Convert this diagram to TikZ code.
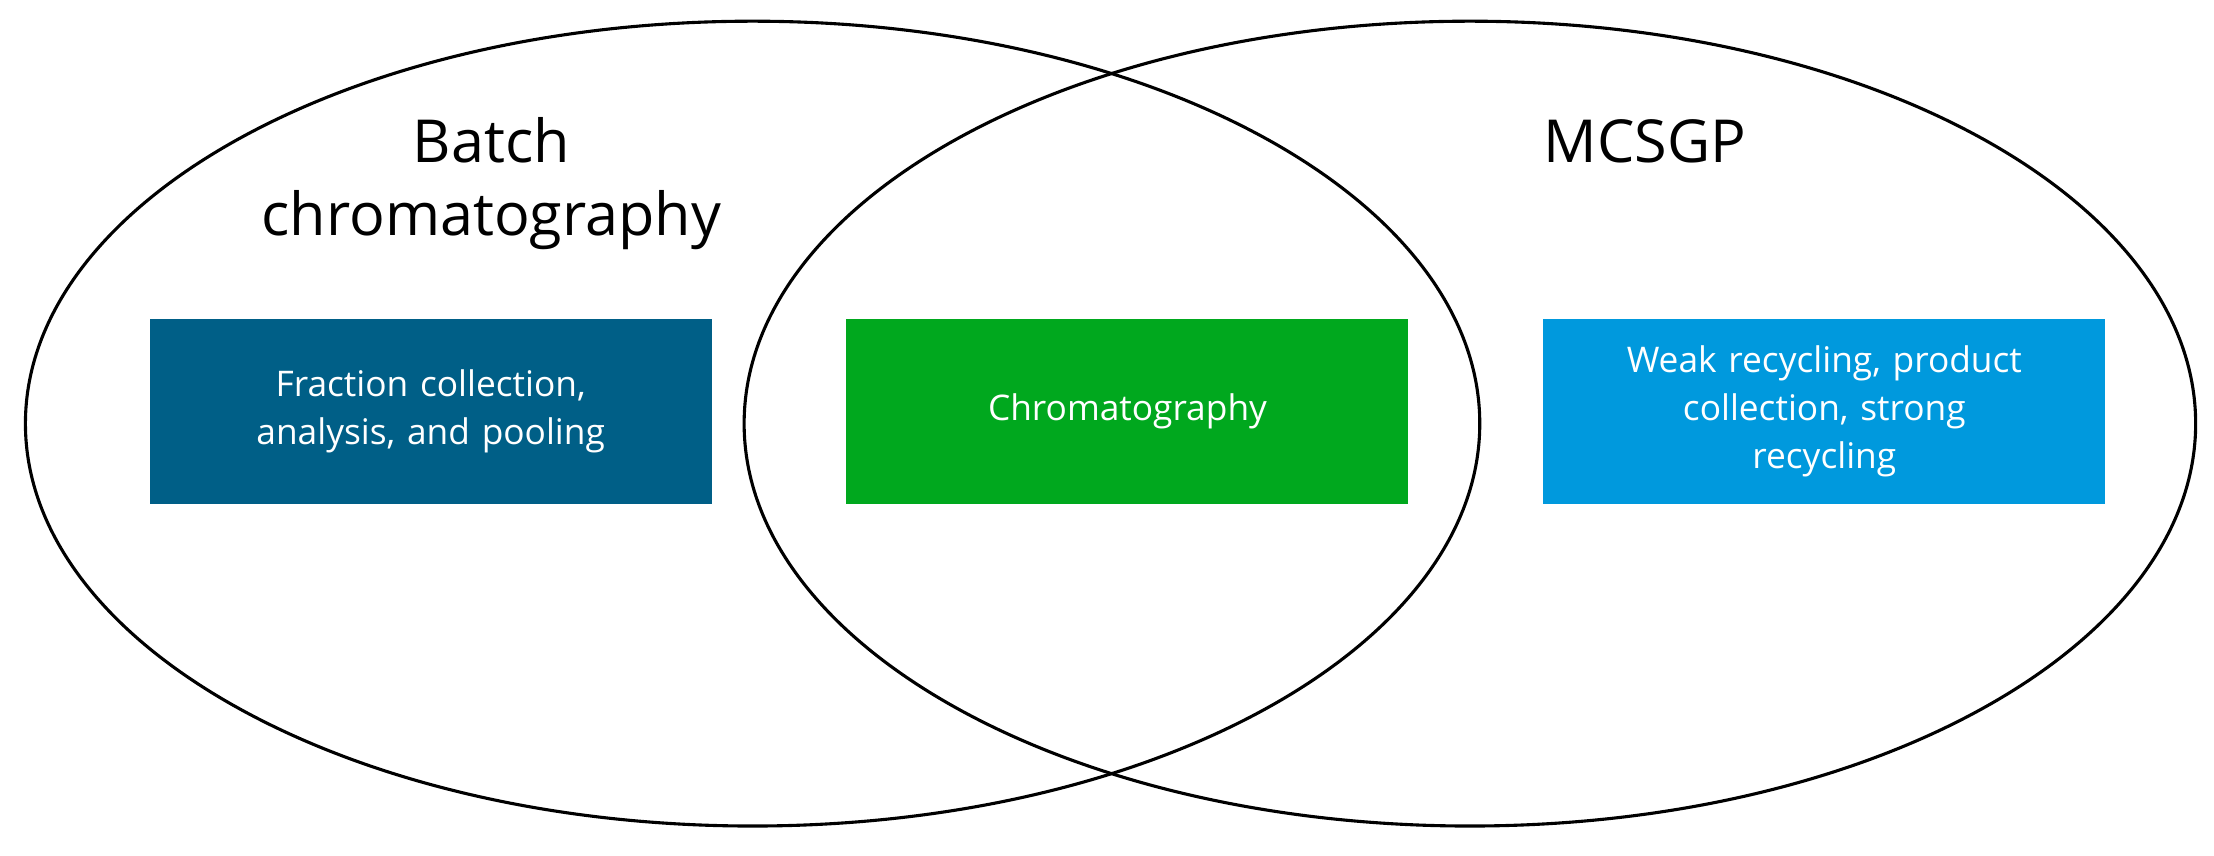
\documentclass[tikz,border=0pt]{standalone}
\usepackage{fontspec}
\setmainfont{Open Sans}
\definecolor{cdark}{HTML}{005F87}
\definecolor{cgreen}{HTML}{00A81E}
\definecolor{cblue}{HTML}{0099DD}
\begin{document}
\begin{tikzpicture}[x=1pt,y=-1pt,
  box/.style={minimum width=398pt,minimum height=131pt,text width=370pt,align=center,text=white,font=\fontsize{25}{34}\selectfont,inner sep=0pt},
  ell/.style={draw=black,line width=2.2pt},
  title/.style={font=\fontsize{42}{52}\selectfont,align=center}]
\useasboundingbox (0,0) rectangle (1568,606);
\draw[ell] (533,300) ellipse [x radius=515,y radius=285];
\draw[ell] (1041,300) ellipse [x radius=514,y radius=285];
\node[box,fill=cdark] (a) at (305,291.5) {Fraction collection,\\analysis, and pooling};
\node[box,fill=cgreen] (b) at (798.5,291.5) {Chromatography};
\node[box,fill=cblue] (c) at (1292,291.5) {Weak recycling, product\\collection, strong\\recycling};
\node[title] (t1) at (348,130) {Batch\\chromatography};
\node[title] (t2) at (1165,100) {MCSGP};
\end{tikzpicture}
\end{document}
